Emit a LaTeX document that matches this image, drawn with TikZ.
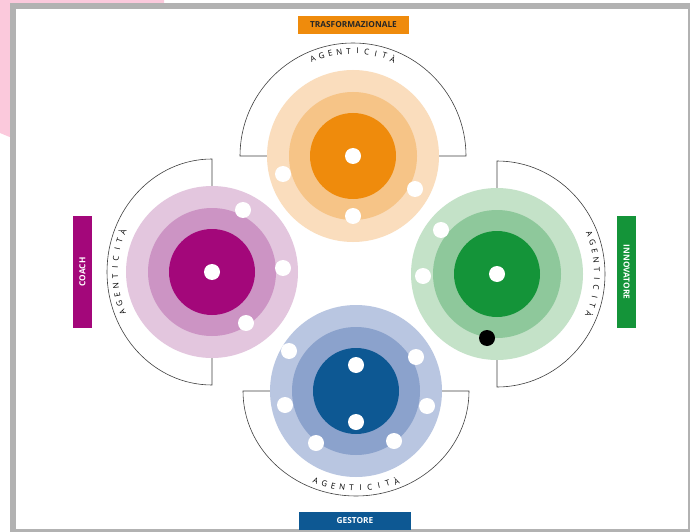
\documentclass[tikz,border=0pt]{standalone}
\usepackage{fontspec}
\setmainfont{Open Sans}
\definecolor{orangeIn}{HTML}{EF8B0C}
\definecolor{orangeMid}{HTML}{F6C487}
\definecolor{orangeOut}{HTML}{FADDBD}
\definecolor{purpleIn}{HTML}{A3077A}
\definecolor{purpleMid}{HTML}{CC94C4}
\definecolor{purpleOut}{HTML}{E3C6DE}
\definecolor{greenIn}{HTML}{149439}
\definecolor{greenMid}{HTML}{8EC89B}
\definecolor{greenOut}{HTML}{C4E2C8}
\definecolor{blueIn}{HTML}{0D5893}
\definecolor{blueMid}{HTML}{8BA2CC}
\definecolor{blueOut}{HTML}{B9C6E1}
\definecolor{pinkbg}{HTML}{FBC9DC}
\begin{document}
\begin{tikzpicture}[x=1pt,y=1pt,
	lbl/.style={font=\bfseries\fontsize{8.3}{9}\selectfont,inner sep=0pt,minimum width=111pt,minimum height=18pt},
	arcline/.style={draw=black!75,line width=.6pt},
	letter/.style={font=\fontsize{8}{9}\selectfont,text=black,inner sep=0pt}]
\useasboundingbox (0,0) rectangle (690,531);
\fill[pinkbg] (0,531) -- (164,531) -- (164,520) -- (12,520) -- (12,393) -- (0,398) -- cycle;
\draw[gray!60,line width=6pt,fill=white] (13,525) rectangle (691,-1);
\draw[arcline] (270,375) -- (240,375) arc[start angle=180,end angle=0,radius=113] -- (436,375);
\draw[arcline] (212,339) -- (212,372) arc[start angle=90,end angle=270,x radius=105,y radius=113] -- (212,179);
\draw[arcline] (497,337) -- (497,370) arc[start angle=90,end angle=-90,x radius=108,y radius=113] -- (497,177);
\draw[arcline] (270,140) -- (243,140) arc[start angle=180,end angle=360,x radius=113,y radius=105] -- (442,140);
\foreach \cx/\cy/\col in {353/375/orange,212/259/purple,497/257/green,356/140/blue}
{
	\fill[\col Out] (\cx,\cy) circle (86pt);
	\fill[\col Mid] (\cx,\cy) circle (64pt);
	\fill[\col In] (\cx,\cy) circle (43pt);
}
\foreach \x/\y in {353/375,283/357,353/315,415/342,212/259,243/321,283/263,246/208,
	497/257,441/301,423/255,356/166,356/109,289/180,416/174,285/126,427/125,316/88,394/90}
{
	\fill[white] (\x,\y) circle (8pt);
}
\fill[black] (487,193) circle (8pt);
\foreach \cx/\cy/\rx/\ry/\m/\d [count=\k] in {353/375/105/105/90/1,212/259/97/105/180/1,497/257/100/105/0/1,356/140/105/97/270/-1}
{
	\foreach \l [count=\i] in {A,G,E,N,T,I,C,I,T,À}
	{
		\pgfmathsetmacro\ang{\m+\d*(22.5-(\i-1)*5)}
		\node[letter,rotate={\ang-90*\d}] (ag\k\i) at ({\cx+\rx*cos(\ang)},{\cy+\ry*sin(\ang)}) {\l};
	}
}
\node[lbl,fill=orangeIn,text=black!85] (trasf) at (353.5,506) {TRASFORMAZIONALE};
\node[lbl,fill=purpleIn,text=white,rotate=90,minimum width=112pt,minimum height=19pt] (coach) at (82.5,259) {COACH};
\node[lbl,fill=greenIn,text=white,rotate=-90,minimum width=112pt,minimum height=19pt] (innov) at (626.5,259) {INNOVATORE};
\node[lbl,fill=blueIn,text=white,minimum width=112pt] (gest) at (355,10) {GESTORE};
\end{tikzpicture}
\end{document}
